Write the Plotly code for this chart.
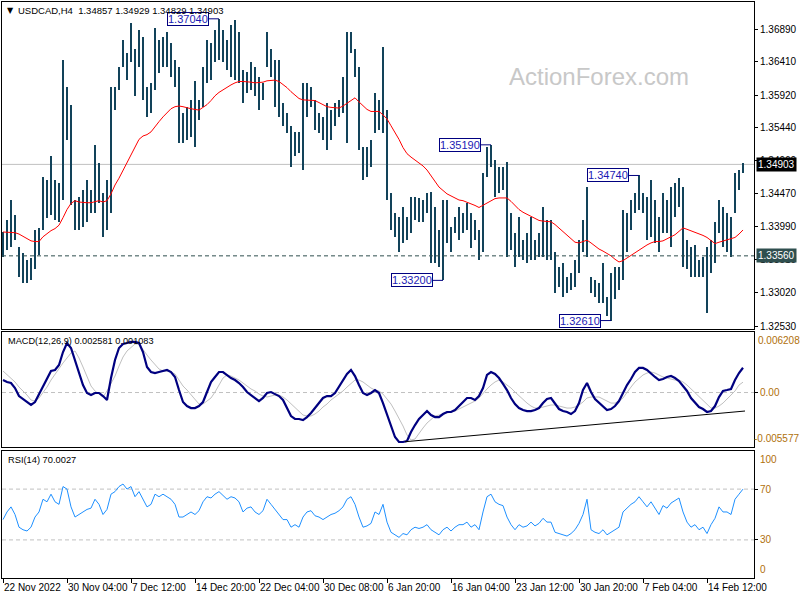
import plotly.graph_objects as go

# ---------------- data (H8 resampling of the H4 chart) ----------------
highs = [1.3391,1.3409,1.3438,1.3416,1.3369,1.3360,1.3350,1.3353,1.3394,1.3397,
1.3472,1.3467,1.3502,1.3467,1.3463,1.3644,1.3604,1.3578,1.3438,1.3443,
1.3453,1.3467,1.3453,1.3519,1.3493,1.3449,1.3467,1.3604,1.3604,1.3634,
1.3673,1.3654,1.3698,1.3659,1.3688,1.3678,1.3604,1.3610,1.3691,1.3673,
1.3678,1.3684,1.3669,1.3644,1.3634,1.3566,1.3575,1.3585,1.3612,1.3585,
1.3634,1.3673,1.3669,1.3688,1.3704,1.3688,1.3673,1.3695,1.3703,1.3684,
1.3629,1.3626,1.3640,1.3634,1.3619,1.3610,1.3684,1.3659,1.3644,1.3644,
1.3581,1.3566,1.3546,1.3538,1.3538,1.3610,1.3610,1.3604,1.3585,1.3566,
1.3560,1.3581,1.3570,1.3581,1.3585,1.3619,1.3684,1.3684,1.3659,1.3634,
1.3516,1.3516,1.3526,1.3595,1.3585,1.3663,1.3570,1.3449,1.3419,1.3413,
1.3428,1.3413,1.3443,1.3443,1.3441,1.3438,1.3449,1.3450,1.3428,1.3394,
1.3438,1.3438,1.3399,1.3413,1.3428,1.3419,1.3434,1.3419,1.3409,1.3394,
1.3478,1.3516,1.3519,1.3497,1.3487,1.3487,1.3494,1.3419,1.3390,1.3413,
1.3379,1.3390,1.3413,1.3379,1.3390,1.3427,1.3409,1.3409,1.3361,1.3340,
1.3346,1.3325,1.3331,1.3350,1.3379,1.3409,1.3457,1.3325,1.3321,1.3316,
1.3346,1.3296,1.3331,1.3340,1.3340,1.3423,1.3419,1.3438,1.3449,1.3474,
1.3449,1.3443,1.3467,1.3438,1.3413,1.3449,1.3438,1.3457,1.3463,1.3471,
1.3457,1.3379,1.3369,1.3372,1.3350,1.3355,1.3369,1.3379,1.3405,1.3438,
1.3428,1.3419,1.3413,1.3478,1.3482,1.3493]

lows = [1.3355,1.3365,1.3369,1.3379,1.3325,1.3316,1.3316,1.3321,1.3336,1.3357,
1.3394,1.3412,1.3416,1.3409,1.3406,1.3438,1.3526,1.3431,1.3394,1.3394,
1.3399,1.3405,1.3419,1.3419,1.3434,1.3384,1.3394,1.3419,1.3570,1.3600,
1.3634,1.3614,1.3640,1.3590,1.3634,1.3585,1.3560,1.3566,1.3600,1.3625,
1.3634,1.3634,1.3619,1.3604,1.3522,1.3522,1.3526,1.3531,1.3516,1.3556,
1.3575,1.3610,1.3614,1.3640,1.3644,1.3640,1.3629,1.3619,1.3614,1.3610,
1.3581,1.3595,1.3600,1.3590,1.3570,1.3585,1.3634,1.3619,1.3575,1.3560,
1.3546,1.3537,1.3487,1.3502,1.3507,1.3482,1.3560,1.3575,1.3541,1.3537,
1.3526,1.3511,1.3526,1.3546,1.3560,1.3566,1.3522,1.3654,1.3619,1.3511,
1.3467,1.3472,1.3487,1.3537,1.3541,1.3537,1.3438,1.3394,1.3384,1.3361,
1.3375,1.3379,1.3390,1.3409,1.3405,1.3405,1.3419,1.3346,1.3346,1.3340,
1.3320,1.3375,1.3361,1.3390,1.3379,1.3390,1.3394,1.3368,1.3379,1.3350,
1.3361,1.3472,1.3487,1.3443,1.3449,1.3453,1.3355,1.3365,1.3340,1.3355,
1.3350,1.3346,1.3350,1.3350,1.3355,1.3355,1.3350,1.3350,1.3302,1.3311,
1.3296,1.3302,1.3306,1.3311,1.3331,1.3361,1.3355,1.3302,1.3296,1.3287,
1.3287,1.3267,1.3261,1.3292,1.3306,1.3321,1.3361,1.3394,1.3419,1.3423,
1.3419,1.3379,1.3384,1.3375,1.3361,1.3390,1.3390,1.3369,1.3413,1.3428,
1.3340,1.3336,1.3325,1.3325,1.3325,1.3325,1.3272,1.3331,1.3346,1.3390,
1.3369,1.3361,1.3355,1.3419,1.3453,1.3478]

ma = [1.3391,1.3391,1.3390,1.3390,1.3388,1.3385,1.3381,1.3378,1.3377,1.3377,
1.3384,1.3389,1.3393,1.3396,1.3401,1.3412,1.3424,1.3433,1.3437,1.3435,
1.3434,1.3434,1.3434,1.3436,1.3437,1.3435,1.3437,1.3447,1.3460,1.3470,
1.3481,1.3493,1.3503,1.3515,1.3527,1.3532,1.3534,1.3538,1.3546,1.3553,
1.3560,1.3566,1.3572,1.3575,1.3576,1.3575,1.3573,1.3572,1.3571,1.3570,
1.3574,1.3578,1.3584,1.3591,1.3596,1.3600,1.3604,1.3607,1.3610,1.3612,
1.3612,1.3612,1.3611,1.3610,1.3610,1.3611,1.3613,1.3614,1.3614,1.3612,
1.3608,1.3603,1.3597,1.3592,1.3587,1.3585,1.3585,1.3585,1.3584,1.3581,
1.3578,1.3575,1.3574,1.3573,1.3573,1.3576,1.3580,1.3585,1.3588,1.3582,
1.3576,1.3571,1.3568,1.3568,1.3568,1.3563,1.3557,1.3547,1.3538,1.3527,
1.3515,1.3506,1.3501,1.3497,1.3493,1.3488,1.3482,1.3473,1.3464,1.3457,
1.3452,1.3447,1.3444,1.3441,1.3438,1.3437,1.3435,1.3432,1.3430,1.3427,
1.3430,1.3434,1.3437,1.3440,1.3441,1.3441,1.3441,1.3436,1.3430,1.3424,
1.3420,1.3417,1.3413,1.3410,1.3408,1.3407,1.3407,1.3406,1.3402,1.3397,
1.3392,1.3386,1.3381,1.3376,1.3375,1.3377,1.3379,1.3375,1.3370,1.3366,
1.3363,1.3360,1.3356,1.3351,1.3347,1.3349,1.3353,1.3357,1.3361,1.3365,
1.3369,1.3372,1.3375,1.3377,1.3377,1.3378,1.3381,1.3384,1.3387,1.3392,
1.3397,1.3395,1.3393,1.3390,1.3388,1.3386,1.3383,1.3379,1.3374,1.3376,
1.3378,1.3380,1.3381,1.3383,1.3388,1.3394]

macd = [0.00130,0.00110,0.00099,0.00047,-0.00037,-0.00068,-0.00099,-0.00130,-0.00099,-0.00016,
0.00057,0.00151,0.00224,0.00235,0.00287,0.00422,0.00516,0.00464,0.00339,0.00203,
0.00078,-0.00005,-0.00026,-0.00005,-0.00005,-0.00037,-0.00078,0.00151,0.00339,0.00464,
0.00506,0.00516,0.00527,0.00527,0.00516,0.00422,0.00266,0.00214,0.00203,0.00214,
0.00224,0.00235,0.00214,0.00162,0.00026,-0.00099,-0.00141,-0.00162,-0.00162,-0.00141,
-0.00099,0.00016,0.00110,0.00162,0.00214,0.00214,0.00183,0.00151,0.00130,0.00099,
0.00057,0.00005,-0.00026,-0.00057,-0.00089,-0.00057,-0.00005,0.00005,-0.00016,-0.00037,
-0.00078,-0.00162,-0.00245,-0.00276,-0.00276,-0.00287,-0.00256,-0.00214,-0.00162,-0.00099,
-0.00057,-0.00037,-0.00037,-0.00005,0.00057,0.00130,0.00193,0.00235,0.00172,0.00078,
-0.00005,-0.00026,-0.00005,0.00026,-0.00005,-0.00110,-0.00224,-0.00339,-0.00464,-0.00516,
-0.00516,-0.00506,-0.00412,-0.00339,-0.00276,-0.00235,-0.00193,-0.00235,-0.00256,-0.00256,
-0.00224,-0.00203,-0.00203,-0.00183,-0.00141,-0.00110,-0.00057,-0.00057,-0.00078,-0.00037,
0.00047,0.00183,0.00214,0.00193,0.00151,0.00089,0.00026,-0.00057,-0.00120,-0.00162,
-0.00183,-0.00193,-0.00193,-0.00183,-0.00162,-0.00110,-0.00068,-0.00057,-0.00110,-0.00172,
-0.00193,-0.00203,-0.00224,-0.00193,-0.00110,0.00026,0.00099,0.00005,-0.00068,-0.00110,
-0.00141,-0.00183,-0.00172,-0.00141,-0.00089,-0.00005,0.00078,0.00141,0.00214,0.00256,
0.00256,0.00235,0.00193,0.00162,0.00130,0.00141,0.00162,0.00172,0.00151,0.00120,
0.00068,0.00016,-0.00057,-0.00099,-0.00151,-0.00172,-0.00203,-0.00193,-0.00141,-0.00047,
0.00016,0.00026,0.00037,0.00130,0.00203,0.00258]

signal = [0.00224,0.00183,0.00151,0.00110,0.00057,0.00016,-0.00026,-0.00078,-0.00089,-0.00057,
-0.00005,0.00057,0.00130,0.00193,0.00256,0.00308,0.00360,0.00412,0.00433,0.00360,
0.00266,0.00162,0.00068,0.00016,-0.00016,-0.00047,0.00016,0.00089,0.00172,0.00276,
0.00370,0.00433,0.00475,0.00506,0.00506,0.00443,0.00391,0.00339,0.00287,0.00245,
0.00224,0.00224,0.00214,0.00193,0.00130,0.00068,0.00026,-0.00026,-0.00078,-0.00120,
-0.00120,-0.00089,-0.00057,0.00005,0.00078,0.00151,0.00183,0.00172,0.00151,0.00130,
0.00099,0.00068,0.00037,0.00016,-0.00016,-0.00037,-0.00047,-0.00037,-0.00026,-0.00026,
-0.00047,-0.00078,-0.00120,-0.00151,-0.00203,-0.00235,-0.00245,-0.00245,-0.00224,-0.00193,
-0.00151,-0.00120,-0.00078,-0.00047,-0.00016,0.00016,0.00057,0.00099,0.00130,0.00130,
0.00110,0.00078,0.00047,0.00026,0.00016,-0.00016,-0.00068,-0.00120,-0.00193,-0.00266,
-0.00349,-0.00443,-0.00495,-0.00485,-0.00422,-0.00370,-0.00318,-0.00276,-0.00245,-0.00235,
-0.00224,-0.00214,-0.00203,-0.00193,-0.00172,-0.00151,-0.00130,-0.00110,-0.00089,-0.00057,
-0.00005,0.00037,0.00078,0.00110,0.00130,0.00110,0.00078,0.00047,0.00005,-0.00037,
-0.00078,-0.00110,-0.00141,-0.00162,-0.00162,-0.00151,-0.00141,-0.00130,-0.00130,-0.00141,
-0.00151,-0.00162,-0.00162,-0.00151,-0.00130,-0.00099,-0.00057,-0.00047,-0.00047,-0.00047,
-0.00068,-0.00089,-0.00110,-0.00110,-0.00089,-0.00057,0.00005,0.00057,0.00110,0.00151,
0.00183,0.00203,0.00214,0.00203,0.00183,0.00162,0.00151,0.00141,0.00130,0.00130,
0.00110,0.00078,0.00037,-0.00005,-0.00047,-0.00089,-0.00130,-0.00162,-0.00162,-0.00141,
-0.00110,-0.00068,-0.00037,0.00016,0.00078,0.00108]

rsi = [46,52,56,50,40,38,37,40,48,52,
62,60,66,60,58,72,70,56,48,50,
52,54,55,62,58,50,54,66,68,72,
74,70,72,64,68,62,56,58,66,64,
66,64,62,58,48,48,50,52,50,53,
60,64,63,66,68,65,62,64,63,60,
52,55,56,52,50,53,62,58,54,50,
46,46,40,42,40,48,52,53,49,48,
46,48,50,51,53,56,62,64,58,48,
40,41,43,52,50,58,44,36,34,32,
35,34,38,40,39,40,42,38,36,34,
38,40,37,40,42,42,44,40,42,38,
52,64,66,60,58,57,48,42,38,42,
40,41,44,41,43,47,44,44,36,35,
34,33,35,38,43,50,62,38,36,35,
38,34,36,38,40,52,55,58,60,64,
60,56,60,55,50,57,55,59,61,63,
52,44,40,42,38,40,35,42,47,56,
52,52,50,62,66,70]

date_labels = ["22 Nov 2022", "30 Nov 04:00", "7 Dec 12:00", "14 Dec 20:00",
               "22 Dec 04:00", "30 Dec 08:00", "6 Jan 20:00", "16 Jan 04:00",
               "23 Jan 12:00", "30 Jan 20:00", "7 Feb 04:00", "14 Feb 12:00"]
date_label_bars = [0, 16, 32, 48, 64, 80, 96, 112, 128, 144, 160, 176]

price_ticks = [1.36890, 1.36410, 1.35920, 1.35440, 1.34960, 1.34470,
               1.33990, 1.33510, 1.33020, 1.32530]
last_ohlc = [1.34857, 1.34929, 1.34829, 1.34903]
support_level = 1.33560
swing_high_bars = [54, 122, 159]
swing_low_bars = [110, 152]
macd_last = [0.002581, 0.001083]
macd_scale = [0.006208, -0.005577]
rsi_last = 70.0027
rsi_levels = [30, 70]
trend_bars = [100.5, 185.5]
trend_vals = [-0.00513, -0.00193]

n = len(highs)
assert len(lows) == n and len(ma) == n and len(macd) == n
assert len(signal) == n and len(rsi) == n
idx = list(range(n))

# ---------------- style ----------------
FONT = "Liberation Sans"
BAR = "#12435a"
NAVY = "#000080"
IND = "#b0700a"
W, H = 800, 600
L_PX, R_PX, T_PX, B_PX = 2, 754, 2, 578
XR = [-0.25, 187.75]

def dom(top_px, bot_px):
    h = B_PX - T_PX
    return [(B_PX - bot_px) / h, (B_PX - top_px) / h]

fig = go.Figure()

fig.add_trace(go.Bar(x=idx, y=[h - l for h, l in zip(highs, lows)], base=lows,
                     width=0.3, marker=dict(color=BAR, line=dict(width=0)),
                     xaxis="x", yaxis="y", hoverinfo="skip"))
fig.add_trace(go.Scatter(x=idx, y=ma, mode="lines", line=dict(color="#ff0000", width=1),
                         xaxis="x", yaxis="y", hoverinfo="skip"))

fig.add_trace(go.Scatter(x=idx, y=signal, mode="lines", line=dict(color="#c0c0c0", width=1),
                         xaxis="x2", yaxis="y2", hoverinfo="skip"))
fig.add_trace(go.Scatter(x=idx, y=macd, mode="lines", line=dict(color=NAVY, width=2.2),
                         xaxis="x2", yaxis="y2", hoverinfo="skip"))
fig.add_trace(go.Scatter(x=trend_bars, y=trend_vals, mode="lines",
                         line=dict(color="#000000", width=1),
                         xaxis="x2", yaxis="y2", hoverinfo="skip"))

fig.add_trace(go.Scatter(x=idx, y=rsi, mode="lines", line=dict(color="#1e90ff", width=1),
                         xaxis="x3", yaxis="y3", hoverinfo="skip"))

shapes = []
shapes.append(dict(type="line", xref="x domain", yref="y", x0=0, x1=1,
                   y0=last_ohlc[3], y1=last_ohlc[3], line=dict(color="#c0c0c0", width=1), layer="below"))
shapes.append(dict(type="line", xref="x domain", yref="y", x0=0, x1=1,
                   y0=support_level, y1=support_level,
                   line=dict(color="#2f4f4f", width=1, dash="4px,3px")))
shapes.append(dict(type="line", xref="x2 domain", yref="y2", x0=0, x1=1, y0=0, y1=0,
                   line=dict(color="#c0c0c0", width=1, dash="4px,3px"), layer="below"))
for lv in rsi_levels:
    shapes.append(dict(type="line", xref="x3 domain", yref="y3", x0=0, x1=1, y0=lv, y1=lv,
                       line=dict(color="#c0c0c0", width=1, dash="4px,3px"), layer="below"))

ann = []
# swing labels
px_per_bar = (R_PX - L_PX) / (XR[1] - XR[0])
gap_bars = 10 / px_per_bar
for b in swing_high_bars + swing_low_bars:
    v = highs[b] if b in swing_high_bars else lows[b]
    shapes.append(dict(type="line", xref="x", yref="y", x0=b - gap_bars, x1=b, y0=v, y1=v,
                       line=dict(color=NAVY, width=1)))
    ann.append(dict(xref="x", yref="y", x=b - gap_bars, y=v, xanchor="right", yanchor="middle",
                    text=f"{v:.5f}", showarrow=False, bgcolor="#ffffff", bordercolor=NAVY,
                    borderwidth=1, borderpad=0, font=dict(family=FONT, size=11, color="#1a1ab4")))

# price boxes on the right scale
ann.append(dict(xref="paper", yref="y", x=1, y=last_ohlc[3], xanchor="left", yanchor="middle",
                xshift=2, text=f"{last_ohlc[3]:.5f}", showarrow=False, bgcolor="#000000",
                borderpad=1, font=dict(family=FONT, size=10, color="#ffffff")))
ann.append(dict(xref="paper", yref="y", x=1, y=support_level, xanchor="left", yanchor="middle",
                xshift=2, text=f"{support_level:.5f}", showarrow=False, bgcolor="#2f4f4f",
                borderpad=1, font=dict(family=FONT, size=10, color="#ffffff")))

# indicator scale labels
ann.append(dict(xref="paper", yref="y2 domain", x=1, y=1, xanchor="left", yanchor="top",
                xshift=2, yshift=-1, text=f"{macd_scale[0]:.6f}", showarrow=False,
                font=dict(family=FONT, size=10, color=IND)))
ann.append(dict(xref="paper", yref="y2 domain", x=1, y=0, xanchor="left", yanchor="bottom",
                xshift=-2, yshift=1, text=f"{macd_scale[1]:.6f}", showarrow=False,
                font=dict(family=FONT, size=10, color=IND)))
ann.append(dict(xref="paper", yref="y3 domain", x=1, y=1, xanchor="left", yanchor="top",
                xshift=4, yshift=-1, text="100", showarrow=False,
                font=dict(family=FONT, size=10, color=IND)))
ann.append(dict(xref="paper", yref="y3 domain", x=1, y=0, xanchor="left", yanchor="bottom",
                xshift=4, yshift=1, text="0", showarrow=False,
                font=dict(family=FONT, size=10, color=IND)))

# titles
o, h_, l_, c = last_ohlc
ann.append(dict(xref="paper", yref="paper", x=0, y=1, xanchor="left", yanchor="top",
                xshift=3, yshift=-2, text="▼", showarrow=False,
                font=dict(family="DejaVu Sans", size=8, color="#000000")))
ann.append(dict(xref="paper", yref="paper", x=0, y=1, xanchor="left", yanchor="top",
                xshift=14, yshift=-1,
                text=f"USDCAD,H4  {o:.5f} {h_:.5f} {l_:.5f} {c:.5f}", showarrow=False,
                font=dict(family=FONT, size=9.5, color="#000000")))
ann.append(dict(xref="paper", yref="y2 domain", x=0, y=1, xanchor="left", yanchor="top",
                xshift=4, yshift=-2,
                text=f"MACD(12,26,9) {macd_last[0]:.6f} {macd_last[1]:.6f}", showarrow=False,
                font=dict(family=FONT, size=9.2, color="#000000")))
ann.append(dict(xref="paper", yref="y3 domain", x=0, y=1, xanchor="left", yanchor="top",
                xshift=4, yshift=-2, text=f"RSI(14) {rsi_last:.4f}", showarrow=False,
                font=dict(family=FONT, size=9.3, color="#000000")))
# watermark
ann.append(dict(xref="paper", yref="paper", x=(599 - L_PX) / (R_PX - L_PX),
                y=(B_PX - 76) / (B_PX - T_PX), xanchor="center", yanchor="middle",
                text="ActionForex.com", showarrow=False,
                font=dict(family=FONT, size=24, color="#c8c8c8")))

axis_common = dict(showgrid=False, zeroline=False, showline=True, mirror=True,
                   linecolor="#000000", linewidth=1, fixedrange=True)

d_main = dom(2, 329)
d_macd = dom(332, 447)
d_rsi = dom(451, 578)

fig.update_layout(
    width=W, height=H,
    margin=dict(l=L_PX, r=W - R_PX, t=T_PX, b=H - B_PX, pad=0),
    paper_bgcolor="#ffffff", plot_bgcolor="#ffffff",
    showlegend=False, bargap=0,
    font=dict(family=FONT, size=10, color="#000000"),
    xaxis=dict(domain=[0, 1], range=XR, anchor="y", showticklabels=False, ticks="", **axis_common),
    xaxis2=dict(domain=[0, 1], range=XR, anchor="y2", matches="x", showticklabels=False, ticks="", **axis_common),
    xaxis3=dict(domain=[0, 1], range=XR, anchor="y3", matches="x",
                tickmode="array", tickvals=date_label_bars, ticktext=date_labels,
                ticks="outside", ticklen=4, tickcolor="#000000", tickangle=0,
                ticklabelposition="outside right",
                tickfont=dict(family=FONT, size=10, color="#000000"), **axis_common),
    yaxis=dict(domain=d_main, range=[1.32486, 1.37287], side="right", anchor="x",
               tickmode="array", tickvals=price_ticks, ticktext=[f"{t:.5f}" for t in price_ticks],
               ticks="outside", ticklen=3, tickcolor="#000000",
               tickfont=dict(family=FONT, size=10, color="#000000"), **axis_common),
    yaxis2=dict(domain=d_macd, range=[-0.00568, 0.00631], side="right", anchor="x2",
                tickmode="array", tickvals=[0], ticktext=["0.00"],
                ticks="outside", ticklen=3, tickcolor="#000000",
                tickfont=dict(family=FONT, size=10, color=IND), **axis_common),
    yaxis3=dict(domain=d_rsi, range=[0, 100], side="right", anchor="x3",
                tickmode="array", tickvals=rsi_levels, ticktext=[str(v) for v in rsi_levels],
                ticks="outside", ticklen=3, tickcolor="#000000",
                tickfont=dict(family=FONT, size=10, color=IND), **axis_common),
    shapes=shapes,
    annotations=ann,
)

fig.write_html("out.html", config={"displayModeBar": False},
               post_script="document.body.style.margin='0';document.body.style.padding='0';")
